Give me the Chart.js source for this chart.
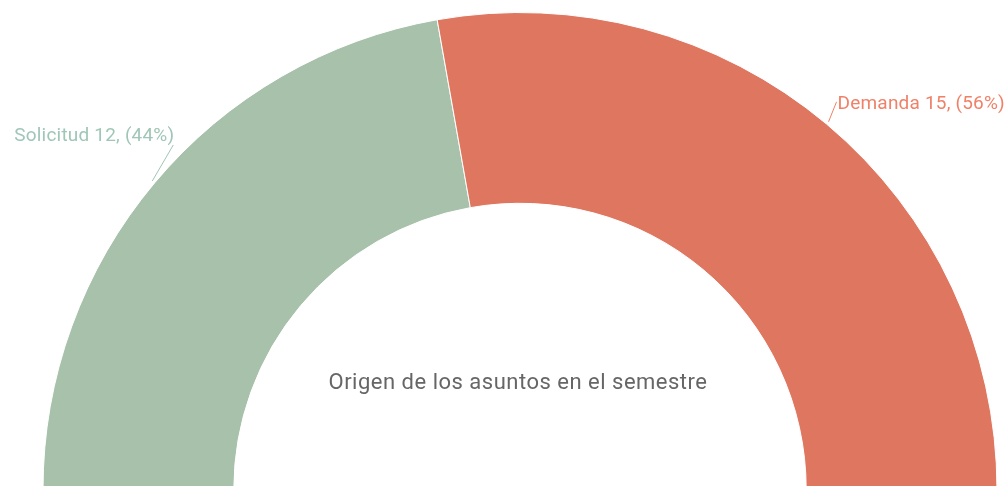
<!DOCTYPE html>
<html>
<head>
<meta charset="utf-8">
<script src="https://cdn.jsdelivr.net/npm/chart.js@4"></script>
<style>
  html, body { margin: 0; padding: 0; background: #fff; overflow: hidden; }
  #wrap { position: absolute; left: 0; top: 0; width: 1007px; height: 492px; }
</style>
</head>
<body>
<div id="wrap"><canvas id="chart"></canvas></div>
<script>
// data
const categories = ["Solicitud", "Demanda"];
const counts = [12, 15];
const sliceColors = ["#a8c1ab", "#df7760"];
const labelColors = ["#9fc6b6", "#f08168"];
const centerTitle = "Origen de los asuntos en el semestre";

// label placement relative to the slice's outer mid point
const labelOffsets = [
  { dx: 21, dy: -36, align: "right", ty: -9 },
  { dx: 8, dy: -20, align: "left", ty: 2 }
];

const total = counts.reduce((a, b) => a + b, 0);

const outsideLabels = {
  id: "outsideLabels",
  afterDraw(chart) {
    const ctx = chart.ctx;
    const meta = chart.getDatasetMeta(0);
    ctx.save();
    ctx.font = "19px Roboto";
    ctx.letterSpacing = "0.2px";
    ctx.textBaseline = "middle";
    meta.data.forEach((arc, i) => {
      const mid = (arc.startAngle + arc.endAngle) / 2;
      const r = arc.outerRadius + 3;
      const x0 = arc.x + Math.cos(mid) * r;
      const y0 = arc.y + Math.sin(mid) * r;
      const off = labelOffsets[i];
      const x1 = x0 + off.dx;
      const y1 = y0 + off.dy;
      ctx.strokeStyle = labelColors[i];
      ctx.lineWidth = 1;
      ctx.beginPath();
      ctx.moveTo(x0, y0);
      ctx.lineTo(x1, y1);
      ctx.stroke();
      const pct = Math.round(counts[i] / total * 100);
      const text = `${categories[i]} ${counts[i]}, (${pct}%)`;
      ctx.fillStyle = labelColors[i];
      ctx.textAlign = off.align;
      ctx.fillText(text, x1 + 1, y1 + off.ty);
    });
    // centre title
    const a = meta.data[0];
    ctx.font = "22px Roboto";
    ctx.letterSpacing = "0.5px";
    ctx.fillStyle = "#666666";
    ctx.textAlign = "center";
    ctx.fillText(centerTitle, a.x - 2, a.y - 106);
    ctx.restore();
  }
};

const ctx = document.getElementById("chart").getContext("2d");
new Chart(ctx, {
  type: "doughnut",
  data: {
    labels: categories,
    datasets: [{
      data: counts,
      backgroundColor: sliceColors,
      borderColor: "#ffffff",
      borderWidth: 1
    }]
  },
  options: {
    responsive: true,
    maintainAspectRatio: false,
    animation: false,
    rotation: -90,
    circumference: 180,
    cutout: "60%",
    layout: { padding: { left: 42, right: 9, top: 12, bottom: 2 } },
    plugins: {
      legend: { display: false },
      tooltip: { enabled: false }
    }
  },
  plugins: [outsideLabels]
});
</script>
</body>
</html>
